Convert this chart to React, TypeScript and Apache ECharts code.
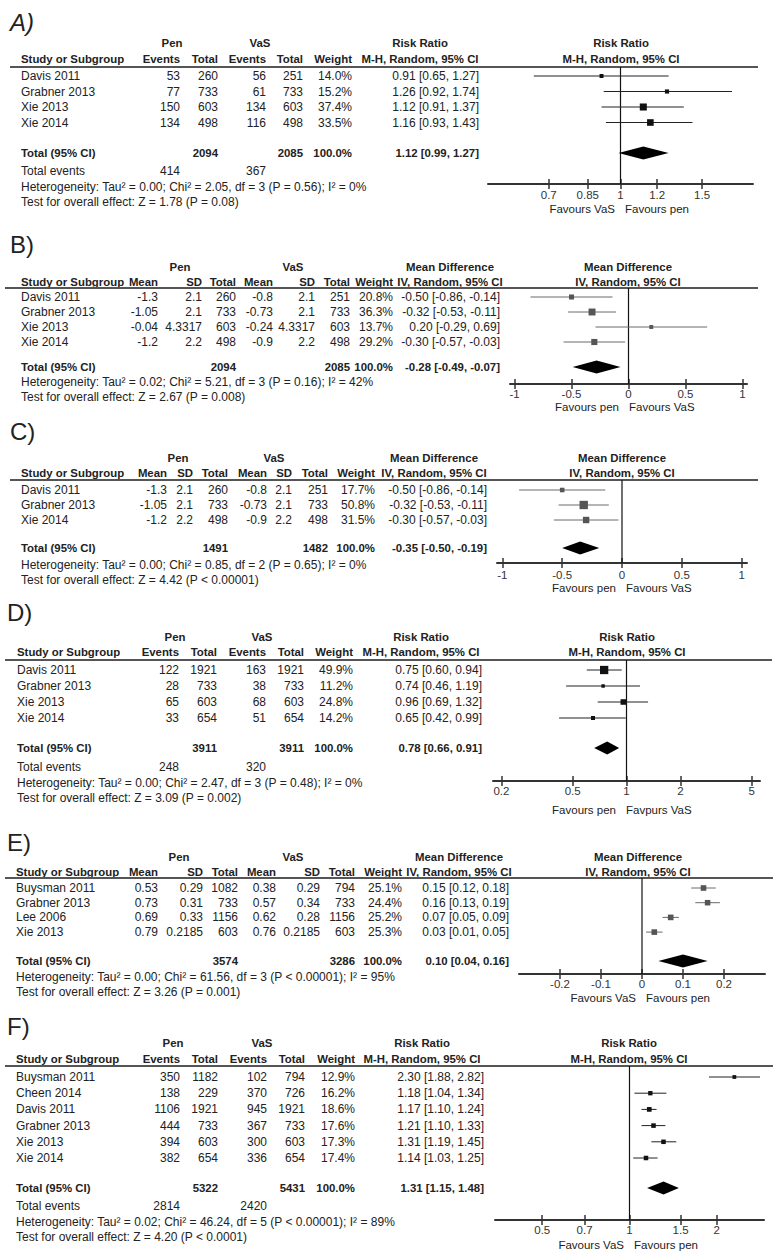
import React, { useEffect, useRef } from "react";
import * as echarts from "echarts";

// ---------------- Panel A (Risk Ratio) ----------------
const studiesA = ["Davis 2011", "Grabner 2013", "Xie 2013", "Xie 2014"];
const penEventsA = [53, 77, 150, 134];
const penTotalA = [260, 733, 603, 498];
const vasEventsA = [56, 61, 134, 116];
const vasTotalA = [251, 733, 603, 498];
const weightA = [14.0, 15.2, 37.4, 33.5];
const rrA = [0.91, 1.26, 1.12, 1.16];
const lowA = [0.65, 0.92, 0.91, 0.93];
const highA = [1.27, 1.74, 1.37, 1.43];
const pooledA = [1.12, 0.99, 1.27];
const sumTotalsA = [2094, 2085];
const sumEventsA = [414, 367];
const hetA = "Heterogeneity: Tau² = 0.00; Chi² = 2.05, df = 3 (P = 0.56); I² = 0%";
const testA = "Test for overall effect: Z = 1.78 (P = 0.08)";
const ticksA = [0.7, 0.85, 1, 1.2, 1.5];
const favoursA = ["Favours VaS", "Favours pen"];

// ---------------- Panel B (Mean Difference) ----------------
const studiesB = ["Davis 2011", "Grabner 2013", "Xie 2013", "Xie 2014"];
const penMeanB = [-1.3, -1.05, -0.04, -1.2];
const penSDB = [2.1, 2.1, 4.3317, 2.2];
const penTotalB = [260, 733, 603, 498];
const vasMeanB = [-0.8, -0.73, -0.24, -0.9];
const vasSDB = [2.1, 2.1, 4.3317, 2.2];
const vasTotalB = [251, 733, 603, 498];
const weightB = [20.8, 36.3, 13.7, 29.2];
const mdB = [-0.5, -0.32, 0.2, -0.3];
const lowB = [-0.86, -0.53, -0.29, -0.57];
const highB = [-0.14, -0.11, 0.69, -0.03];
const pooledB = [-0.28, -0.49, -0.07];
const sumTotalsB = [2094, 2085];
const hetB = "Heterogeneity: Tau² = 0.02; Chi² = 5.21, df = 3 (P = 0.16); I² = 42%";
const testB = "Test for overall effect: Z = 2.67 (P = 0.008)";
const ticksB = [-1, -0.5, 0, 0.5, 1];
const favoursB = ["Favours pen", "Favours VaS"];

// ---------------- Panel C (Mean Difference) ----------------
const studiesC = ["Davis 2011", "Grabner 2013", "Xie 2014"];
const penMeanC = [-1.3, -1.05, -1.2];
const penSDC = [2.1, 2.1, 2.2];
const penTotalC = [260, 733, 498];
const vasMeanC = [-0.8, -0.73, -0.9];
const vasSDC = [2.1, 2.1, 2.2];
const vasTotalC = [251, 733, 498];
const weightC = [17.7, 50.8, 31.5];
const mdC = [-0.5, -0.32, -0.3];
const lowC = [-0.86, -0.53, -0.57];
const highC = [-0.14, -0.11, -0.03];
const pooledC = [-0.35, -0.5, -0.19];
const sumTotalsC = [1491, 1482];
const hetC = "Heterogeneity: Tau² = 0.00; Chi² = 0.85, df = 2 (P = 0.65); I² = 0%";
const testC = "Test for overall effect: Z = 4.42 (P < 0.00001)";
const ticksC = [-1, -0.5, 0, 0.5, 1];
const favoursC = ["Favours pen", "Favours VaS"];

// ---------------- Panel D (Risk Ratio) ----------------
const studiesD = ["Davis 2011", "Grabner 2013", "Xie 2013", "Xie 2014"];
const penEventsD = [122, 28, 65, 33];
const penTotalD = [1921, 733, 603, 654];
const vasEventsD = [163, 38, 68, 51];
const vasTotalD = [1921, 733, 603, 654];
const weightD = [49.9, 11.2, 24.8, 14.2];
const rrD = [0.75, 0.74, 0.96, 0.65];
const lowD = [0.6, 0.46, 0.69, 0.42];
const highD = [0.94, 1.19, 1.32, 0.99];
const pooledD = [0.78, 0.66, 0.91];
const sumTotalsD = [3911, 3911];
const sumEventsD = [248, 320];
const hetD = "Heterogeneity: Tau² = 0.00; Chi² = 2.47, df = 3 (P = 0.48); I² = 0%";
const testD = "Test for overall effect: Z = 3.09 (P = 0.002)";
const ticksD = [0.2, 0.5, 1, 2, 5];
const favoursD = ["Favours pen", "Favpurs VaS"];

// ---------------- Panel E (Mean Difference) ----------------
const studiesE = ["Buysman 2011", "Grabner 2013", "Lee 2006", "Xie 2013"];
const penMeanE = [0.53, 0.73, 0.69, 0.79];
const penSDE = [0.29, 0.31, 0.33, 0.2185];
const penTotalE = [1082, 733, 1156, 603];
const vasMeanE = [0.38, 0.57, 0.62, 0.76];
const vasSDE = [0.29, 0.34, 0.28, 0.2185];
const vasTotalE = [794, 733, 1156, 603];
const weightE = [25.1, 24.4, 25.2, 25.3];
const mdE = [0.15, 0.16, 0.07, 0.03];
const lowE = [0.12, 0.13, 0.05, 0.01];
const highE = [0.18, 0.19, 0.09, 0.05];
const pooledE = [0.1, 0.04, 0.16];
const sumTotalsE = [3574, 3286];
const hetE = "Heterogeneity: Tau² = 0.00; Chi² = 61.56, df = 3 (P < 0.00001); I² = 95%";
const testE = "Test for overall effect: Z = 3.26 (P = 0.001)";
const ticksE = [-0.2, -0.1, 0, 0.1, 0.2];
const favoursE = ["Favours VaS", "Favours pen"];

// ---------------- Panel F (Risk Ratio) ----------------
const studiesF = ["Buysman 2011", "Cheen 2014", "Davis 2011", "Grabner 2013", "Xie 2013", "Xie 2014"];
const penEventsF = [350, 138, 1106, 444, 394, 382];
const penTotalF = [1182, 229, 1921, 733, 603, 654];
const vasEventsF = [102, 370, 945, 367, 300, 336];
const vasTotalF = [794, 726, 1921, 733, 603, 654];
const weightF = [12.9, 16.2, 18.6, 17.6, 17.3, 17.4];
const rrF = [2.3, 1.18, 1.17, 1.21, 1.31, 1.14];
const lowF = [1.88, 1.04, 1.1, 1.1, 1.19, 1.03];
const highF = [2.82, 1.34, 1.24, 1.33, 1.45, 1.25];
const pooledF = [1.31, 1.15, 1.48];
const sumTotalsF = [5322, 5431];
const sumEventsF = [2814, 2420];
const hetF = "Heterogeneity: Tau² = 0.02; Chi² = 46.24, df = 5 (P < 0.00001); I² = 89%";
const testF = "Test for overall effect: Z = 4.20 (P < 0.0001)";
const ticksF = [0.5, 0.7, 1, 1.5, 2];
const favoursF = ["Favours VaS", "Favours pen"];

// ---------------- Layout (pixels) ----------------
const layoutA = { titleX: 10, titleY: 22, left: 21, lineX1: 10, lineX2: 758, penY: 43, hdrY: 59, lineY: 67, row0: 76, step: 15.5, totalY: 153, eventsY: 171, hetY: 187, testY: 202, axisY: 184, tickY: 195, favY: 209, gridL: 488, gridR: 753, xMin: -0.286, xMax: 0.286, cols: [180, 218, 266, 303, 352], ciR: 479, penC: 172, vasC: 260, ciHdrC: 420, plotHdrC: 621, favC: 620 };
const layoutB = { titleX: 10, titleY: 244, left: 21, lineX1: 5, lineX2: 758, penY: 267, hdrY: 282, lineY: 288, row0: 297, step: 15, totalY: 367, hetY: 382, testY: 397, axisY: 384, tickY: 393.5, favY: 406.5, gridL: 510, gridR: 747, xMin: -1.04, xMax: 1.04, cols: [158, 202, 236, 273, 315, 350, 393], ciR: 500, penC: 180, vasC: 293, ciHdrC: 450, plotHdrC: 628, favC: 624 };
const layoutC = { titleX: 10, titleY: 431, left: 21, lineX1: 10, lineX2: 758, penY: 458, hdrY: 473, lineY: 480, row0: 490, step: 15, totalY: 548, hetY: 565, testY: 580, axisY: 563, tickY: 575, favY: 588, gridL: 497, gridR: 747, xMin: -1.045, xMax: 1.045, cols: [167, 193, 228, 267, 292, 328, 375], ciR: 487, penC: 178, vasC: 274, ciHdrC: 434, plotHdrC: 622, favC: 621 };
const layoutD = { titleX: 7, titleY: 612, left: 17, lineX1: 5, lineX2: 772, penY: 637, hdrY: 652, lineY: 660, row0: 670, step: 16, totalY: 748, eventsY: 767, hetY: 783, testY: 798, axisY: 781, tickY: 791, favY: 810, gridL: 493, gridR: 760, xMin: -0.746, xMax: 0.746, cols: [179, 217, 266, 304, 353], ciR: 482, penC: 175, vasC: 262, ciHdrC: 421, plotHdrC: 627, favC: 621 };
const layoutE = { titleX: 7, titleY: 842, left: 16, lineX1: 5, lineX2: 773, penY: 857, hdrY: 872, lineY: 878, row0: 888, step: 14.7, totalY: 961, hetY: 977, testY: 992, axisY: 974, tickY: 984, favY: 997.5, gridL: 519, gridR: 765, xMin: -0.3, xMax: 0.3, cols: [158, 203, 238, 276, 320, 355, 402], ciR: 509, penC: 179, vasC: 293, ciHdrC: 459, plotHdrC: 638, favC: 641 };
const layoutF = { titleX: 7, titleY: 1026, left: 16, lineX1: 5, lineX2: 773, penY: 1043, hdrY: 1059, lineY: 1066, row0: 1077, step: 16.2, totalY: 1188, eventsY: 1206, hetY: 1222, testY: 1237, axisY: 1220, tickY: 1230, favY: 1245, gridL: 495, gridR: 764, xMin: -0.464, xMax: 0.464, cols: [180, 218, 267, 305, 355], ciR: 484, penC: 173, vasC: 262, ciHdrC: 422, plotHdrC: 629, favC: 629 };

const dichHeaders = ["Events", "Total", "Events", "Total", "Weight"];
const contHeaders = ["Mean", "SD", "Total", "Mean", "SD", "Total", "Weight"];
const rrTitles = ["Risk Ratio", "M-H, Random, 95% CI"];
const mdTitles = ["Mean Difference", "IV, Random, 95% CI"];

const panels: any[] = [
  { title: "A)", italic: true, log: true, dich: true, studies: studiesA, columns: [penEventsA, penTotalA, vasEventsA, vasTotalA], weight: weightA, est: rrA, lo: lowA, hi: highA, pooled: pooledA, sumTotals: sumTotalsA, sumEvents: sumEventsA, het: hetA, test: testA, ticks: ticksA, favours: favoursA, L: layoutA },
  { title: "B)", italic: false, log: false, dich: false, studies: studiesB, columns: [penMeanB, penSDB, penTotalB, vasMeanB, vasSDB, vasTotalB], weight: weightB, est: mdB, lo: lowB, hi: highB, pooled: pooledB, sumTotals: sumTotalsB, het: hetB, test: testB, ticks: ticksB, favours: favoursB, L: layoutB },
  { title: "C)", italic: false, log: false, dich: false, studies: studiesC, columns: [penMeanC, penSDC, penTotalC, vasMeanC, vasSDC, vasTotalC], weight: weightC, est: mdC, lo: lowC, hi: highC, pooled: pooledC, sumTotals: sumTotalsC, het: hetC, test: testC, ticks: ticksC, favours: favoursC, L: layoutC },
  { title: "D)", italic: false, log: true, dich: true, studies: studiesD, columns: [penEventsD, penTotalD, vasEventsD, vasTotalD], weight: weightD, est: rrD, lo: lowD, hi: highD, pooled: pooledD, sumTotals: sumTotalsD, sumEvents: sumEventsD, het: hetD, test: testD, ticks: ticksD, favours: favoursD, L: layoutD },
  { title: "E)", italic: false, log: false, dich: false, studies: studiesE, columns: [penMeanE, penSDE, penTotalE, vasMeanE, vasSDE, vasTotalE], weight: weightE, est: mdE, lo: lowE, hi: highE, pooled: pooledE, sumTotals: sumTotalsE, het: hetE, test: testE, ticks: ticksE, favours: favoursE, L: layoutE },
  { title: "F)", italic: false, log: true, dich: true, studies: studiesF, columns: [penEventsF, penTotalF, vasEventsF, vasTotalF], weight: weightF, est: rrF, lo: lowF, hi: highF, pooled: pooledF, sumTotals: sumTotalsF, sumEvents: sumEventsF, het: hetF, test: testF, ticks: ticksF, favours: favoursF, L: layoutF },
];

const FONT = "'Liberation Sans', Arial, Helvetica, sans-serif";
const TXT = "#222";
const SIZE_N = 12;
const SIZE_B = 11.4;
const SIZE_TICK = 11.5;

function txt(x: number, y: number, text: string, align = "left", bold = false, size = 0, extra: any = {}) {
  const fs = size || (bold ? SIZE_B : SIZE_N);
  return {
    type: "text",
    x,
    y,
    silent: true,
    style: {
      text,
      fill: TXT,
      fontSize: fs,
      fontFamily: FONT,
      fontWeight: bold ? "bold" : "normal",
      align,
      verticalAlign: "middle",
      textAlign: align,
      textVerticalAlign: "middle",
      ...extra,
    },
  };
}

const f2 = (v: number) => v.toFixed(2);
const ciText = (e: number, l: number, h: number) => `${f2(e)} [${f2(l)}, ${f2(h)}]`;
const boxSize = (w: number) => Math.max(3, 1.3 * Math.sqrt(w) - 0.9);

function buildOption() {
  const grid: any[] = [];
  const xAxis: any[] = [];
  const yAxis: any[] = [];
  const series: any[] = [];
  const elements: any[] = [];

  panels.forEach((p, k) => {
    const L = p.L;
    const tx = p.log ? (v: number) => Math.log10(v) : (v: number) => v;
    const headers = p.dich ? dichHeaders : contHeaders;
    const titles = p.dich ? rrTitles : mdTitles;
    const nCols = headers.length;
    const markColor = p.dich ? "#111" : "#555";
    const ciColor = p.dich ? "#222" : "#6a6a6a";

    // ---------- table text ----------
    elements.push(txt(L.titleX, L.titleY, p.title, "left", false, 24, { fontStyle: p.italic ? "italic" : "normal" }));
    elements.push(txt(L.penC, L.penY, "Pen", "center", true));
    elements.push(txt(L.vasC, L.penY, "VaS", "center", true));
    elements.push(txt(L.ciHdrC, L.penY, titles[0], "center", true));
    elements.push(txt(L.plotHdrC, L.penY, titles[0], "center", true));
    elements.push(txt(L.left, L.hdrY, "Study or Subgroup", "left", true));
    headers.forEach((h: string, j: number) => elements.push(txt(L.cols[j], L.hdrY, h, "right", true)));
    elements.push(txt(L.ciHdrC, L.hdrY, titles[1], "center", true));
    elements.push(txt(L.plotHdrC, L.hdrY, titles[1], "center", true));
    elements.push({
      type: "line",
      silent: true,
      shape: { x1: L.lineX1, y1: L.lineY, x2: L.lineX2, y2: L.lineY },
      style: { stroke: "#555", lineWidth: 2 },
    });

    p.studies.forEach((s: string, i: number) => {
      const y = L.row0 + i * L.step;
      elements.push(txt(L.left, y, s, "left"));
      p.columns.forEach((col: number[], j: number) => elements.push(txt(L.cols[j], y, String(col[i]), "right")));
      elements.push(txt(L.cols[nCols - 1], y, p.weight[i].toFixed(1) + "%", "right"));
      elements.push(txt(L.ciR, y, ciText(p.est[i], p.lo[i], p.hi[i]), "right"));
    });

    const penTotIdx = p.dich ? 1 : 2;
    const vasTotIdx = p.dich ? 3 : 5;
    elements.push(txt(L.left, L.totalY, "Total (95% CI)", "left", true));
    elements.push(txt(L.cols[penTotIdx], L.totalY, String(p.sumTotals[0]), "right", true));
    elements.push(txt(L.cols[vasTotIdx], L.totalY, String(p.sumTotals[1]), "right", true));
    elements.push(txt(L.cols[nCols - 1], L.totalY, "100.0%", "right", true));
    elements.push(txt(L.ciR, L.totalY, ciText(p.pooled[0], p.pooled[1], p.pooled[2]), "right", true));
    if (p.sumEvents) {
      elements.push(txt(L.left, L.eventsY, "Total events", "left"));
      elements.push(txt(L.cols[0], L.eventsY, String(p.sumEvents[0]), "right"));
      elements.push(txt(L.cols[2], L.eventsY, String(p.sumEvents[1]), "right"));
    }
    elements.push(txt(L.left, L.hetY, p.het, "left"));
    elements.push(txt(L.left, L.testY, p.test, "left"));
    elements.push(txt(L.favC - 5, L.favY, p.favours[0], "right", false, SIZE_TICK));
    elements.push(txt(L.favC + 5, L.favY, p.favours[1], "left", false, SIZE_TICK));

    // ---------- plot ----------
    grid.push({
      left: L.gridL,
      width: L.gridR - L.gridL,
      top: L.lineY,
      height: L.axisY - L.lineY,
      containLabel: false,
      outerBoundsMode: "none",
    });
    const tickVals = p.ticks.map(tx);
    const fmtTick = (v: number) => {
      let best = 0;
      tickVals.forEach((t: number, j: number) => {
        if (Math.abs(t - v) < Math.abs(tickVals[best] - v)) best = j;
      });
      return String(p.ticks[best]);
    };
    const tickLine = { color: "#333", width: 1.5 };
    xAxis.push({
      type: "value",
      gridIndex: k,
      min: L.xMin,
      max: L.xMax,
      position: "bottom",
      axisLine: { show: true, onZero: false, lineStyle: { color: "#333", width: 2 } },
      axisTick: { show: true, customValues: tickVals, length: 5, inside: false, lineStyle: tickLine },
      axisLabel: {
        show: true,
        customValues: tickVals,
        formatter: fmtTick,
        color: "#333",
        fontSize: SIZE_TICK,
        fontFamily: FONT,
        margin: L.tickY - 5.75 - L.axisY,
      },
      splitLine: { show: false },
    });
    xAxis.push({
      type: "value",
      gridIndex: k,
      min: L.xMin,
      max: L.xMax,
      position: "bottom",
      axisLine: { show: false, onZero: false },
      axisTick: { show: true, customValues: tickVals, length: 5, inside: true, lineStyle: tickLine },
      axisLabel: { show: false },
      splitLine: { show: false },
    });
    yAxis.push({
      type: "value",
      gridIndex: k,
      inverse: true,
      min: (L.lineY - L.row0) / L.step,
      max: (L.axisY - L.row0) / L.step,
      show: false,
    });

    const totalSlot = (L.totalY - L.row0) / L.step;

    // pooled diamond + line of no effect
    series.push({
      type: "custom",
      xAxisIndex: 2 * k,
      yAxisIndex: k,
      silent: true,
      data: [[tx(p.pooled[0]), tx(p.pooled[1]), tx(p.pooled[2]), totalSlot]],
      encode: { x: [0, 1, 2], y: 3 },
      renderItem: (params: any, api: any) => {
        const cs = params.coordSys;
        const y = api.value(3);
        const pe = api.coord([api.value(0), y]);
        const pl = api.coord([api.value(1), y]);
        const ph = api.coord([api.value(2), y]);
        const nullX = api.coord([0, y])[0];
        const h = 6.5;
        return {
          type: "group",
          children: [
            {
              type: "line",
              shape: { x1: nullX, y1: cs.y, x2: nullX, y2: cs.y + cs.height },
              style: { stroke: "#111", lineWidth: 1.2 },
            },
            {
              type: "polygon",
              shape: { points: [[pl[0], pl[1]], [pe[0], pe[1] - h], [ph[0], ph[1]], [pe[0], pe[1] + h]] },
              style: { fill: "#000" },
            },
          ],
        };
      },
    });

    // study estimates with CIs
    series.push({
      type: "custom",
      xAxisIndex: 2 * k,
      yAxisIndex: k,
      silent: true,
      data: p.est.map((e: number, i: number) => [tx(e), tx(p.lo[i]), tx(p.hi[i]), i, p.weight[i]]),
      encode: { x: [0, 1, 2], y: 3 },
      renderItem: (params: any, api: any) => {
        const y = api.value(3);
        const pe = api.coord([api.value(0), y]);
        const pl = api.coord([api.value(1), y]);
        const ph = api.coord([api.value(2), y]);
        const s = boxSize(api.value(4));
        return {
          type: "group",
          children: [
            {
              type: "line",
              shape: { x1: pl[0], y1: pl[1], x2: ph[0], y2: ph[1] },
              style: { stroke: ciColor, lineWidth: 1 },
            },
            {
              type: "rect",
              shape: { x: pe[0] - s / 2, y: pe[1] - s / 2, width: s, height: s },
              style: { fill: markColor },
            },
          ],
        };
      },
    });
  });

  return {
    animation: false,
    backgroundColor: "#fff",
    grid,
    xAxis,
    yAxis,
    series,
    graphic: { elements },
  };
}

export default function App() {
  const ref = useRef<HTMLDivElement>(null);
  useEffect(() => {
    if (!ref.current) return;
    const chart = echarts.init(ref.current, null, { renderer: "svg" });
    chart.setOption(buildOption() as any);
    return () => chart.dispose();
  }, []);
  return (
    <div
      ref={ref}
      style={{ position: "absolute", left: 0, top: 0, width: 777, height: 1260, background: "#fff" }}
    />
  );
}
